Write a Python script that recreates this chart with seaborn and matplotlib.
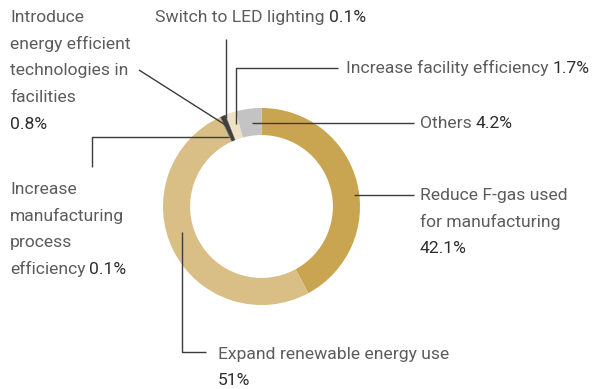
import matplotlib
matplotlib.use("Agg")
import matplotlib.pyplot as plt
import seaborn as sns

sns.set_theme(style="white")
plt.rcParams["font.family"] = ["Roboto", "DejaVu Sans"]

# GHG reduction by activity (share of total, %)
categories = [
    "Reduce F-gas used for manufacturing",
    "Expand renewable energy use",
    "Increase manufacturing process efficiency",
    "Introduce energy efficient technologies in facilities",
    "Switch to LED lighting",
    "Increase facility efficiency",
    "Others",
]
shares = [42.1, 51.0, 0.1, 0.8, 0.1, 1.7, 4.2]
value_labels = ["42.1%", "51%", "0.1%", "0.8%", "0.1%", "1.7%", "4.2%"]
colors = ["#C9A552", "#D9BF86", "#4A4A4A", "#404040", "#6A6A6A", "#EEE1C6", "#C3C3C3"]

W, H = 592, 389
fig = plt.figure(figsize=(W / 100, H / 100), dpi=100)
fig.patch.set_facecolor("white")

# Donut
cx, cy, r = 261.5, 206.5, 98.5
ax = fig.add_axes([(cx - r) / W, (H - cy - r) / H, 2 * r / W, 2 * r / H])
ax.pie(shares, colors=colors, startangle=90, counterclock=False,
       wedgeprops=dict(width=0.275, linewidth=0))
ax.set_xlim(-1, 1)
ax.set_ylim(-1, 1)
ax.set_aspect("equal")
ax.axis("off")

# Overlay for leader lines and labels, in pixel space
ov = fig.add_axes([0, 0, 1, 1], zorder=3)
ov.set_xlim(0, W)
ov.set_ylim(H, 0)
ov.axis("off")
ov.patch.set_alpha(0)

LINE_C = "#3C3C3C"
TXT_C = "#5C5C5C"
VAL_C = "#2E2E2E"
FS = 12.6

leaders = {
    "Others": [(252, 123), (414, 123)],
    "Reduce F-gas used for manufacturing": [(354, 195), (414, 195)],
    "Increase facility efficiency": [(236, 124), (236, 68), (338, 68)],
    "Switch to LED lighting": [(226, 118), (226, 39)],
    "Introduce energy efficient technologies in facilities": [(227, 126), (139, 70)],
    "Increase manufacturing process efficiency": [(229, 137), (92, 137), (92, 167)],
    "Expand renewable energy use": [(182, 232), (182, 352), (206, 352)],
}
for pts in leaders.values():
    xs, ys = zip(*pts)
    ov.plot(xs, ys, color=LINE_C, lw=1.0, solid_capstyle="butt")

fig.canvas.draw()
renderer = fig.canvas.get_renderer()


def put_line(x, y, parts):
    """Draw a row of (text, is_value) pieces starting at x, vertically centred on y."""
    for text, is_val in parts:
        t = ov.text(x, y, text, fontsize=FS, va="center", ha="left",
                    color=VAL_C if is_val else TXT_C, fontweight="normal")
        bb = t.get_window_extent(renderer=renderer)
        x += bb.width + 4


def label_block(x, y0, lines, step=26.8):
    for i, parts in enumerate(lines):
        put_line(x, y0 + i * step, parts)


v = dict(zip(categories, value_labels))
label_block(10, 17, [[("Introduce", False)], [("energy efficient", False)],
                     [("technologies in", False)], [("facilities", False)],
                     [(v[categories[3]], True)]])
label_block(155, 17, [[("Switch to LED lighting", False), (v[categories[4]], True)]])
label_block(346, 68, [[("Increase facility efficiency", False), (v[categories[5]], True)]])
label_block(420, 123, [[("Others", False), (v[categories[6]], True)]])
label_block(420, 195, [[("Reduce F-gas used", False)], [("for manufacturing", False)],
                       [(v[categories[0]], True)]])
label_block(10, 189, [[("Increase", False)], [("manufacturing", False)],
                      [("process", False)],
                      [("efficiency", False), (v[categories[2]], True)]])
label_block(218, 354, [[("Expand renewable energy use", False)],
                       [(v[categories[1]], True)]])

fig.savefig("out.png", dpi=100, facecolor="white")
